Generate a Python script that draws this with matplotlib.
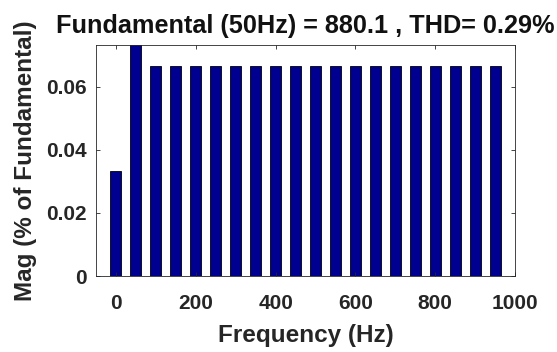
import matplotlib
matplotlib.use("Agg")
import matplotlib.pyplot as plt
import numpy as np

freqs = [0, 50, 100, 150, 200, 250, 300, 350, 400, 450, 500, 550, 600, 650, 700, 750, 800, 850, 900, 950]
mags = [0.0333, 100.0] + [0.0667] * 18
xticks = [0, 200, 400, 600, 800, 1000]
yticks = [0, 0.02, 0.04, 0.06]
ytick_labels = ["0", "0.02", "0.04", "0.06"]
title = "Fundamental (50Hz) = 880.1 , THD= 0.29%"

plt.rcParams['font.family'] = ['Liberation Sans', 'DejaVu Sans']
plt.rcParams['font.weight'] = 'bold'

fig = plt.figure(figsize=(5.57, 3.52), dpi=100)
ax = fig.add_axes([96/557, 1-276/352, (515-96)/557, (276-45)/352])
ax.bar(freqs, mags, width=27.5, color='#000090', edgecolor='black', linewidth=0.6)
ax.set_xlim(-50, 1000)
ax.set_ylim(0, 0.0733)
ax.set_xticks(xticks)
ax.set_yticks(yticks)
ax.set_yticklabels(ytick_labels)
ax.tick_params(direction='in', top=True, right=True, length=3, width=0.6,
               labelsize=15, labelcolor='#262626', color='#262626')
for lab in ax.get_xticklabels() + ax.get_yticklabels():
    lab.set_fontweight('bold')
ax.tick_params(axis='x', pad=13)
ax.tick_params(axis='y', pad=7)
for s in ax.spines.values():
    s.set_linewidth(0.6)
    s.set_color('#262626')
ax.set_title(title, fontsize=18.2, fontweight='bold', color='#111111', pad=9)
ax.set_xlabel("Frequency (Hz)", fontsize=17.5, fontweight='bold', color='#262626', labelpad=8)
ax.set_ylabel("Mag (% of Fundamental)", fontsize=17.5, fontweight='bold', color='#262626', labelpad=6)
fig.savefig("out.png", dpi=100)
